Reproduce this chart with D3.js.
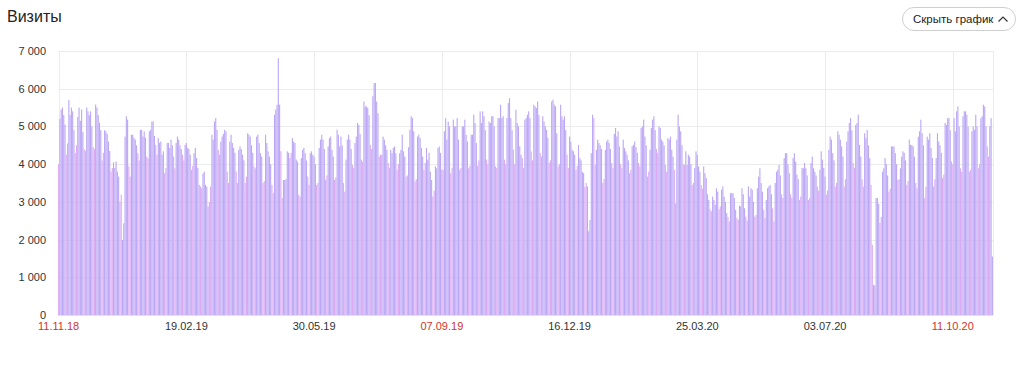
<!DOCTYPE html>
<html><head><meta charset="utf-8">
<script src="https://cdn.jsdelivr.net/npm/d3@7"></script>
<style>
html,body{margin:0;padding:0;background:#fff;}
svg{display:block;font-family:"Liberation Sans",Arial,sans-serif;}
</style></head>
<body>
<svg id="chart" width="1024" height="366"></svg>
<script>
const startDate = "2018-11-11";
// daily visits, Sunday 11.11.18 first, then Mon..Sun weeks
const visits = [
 4000,
 5200,5450,5500,5300,5050,4250,4550,
 5700,5300,5500,5400,4900,4300,4500,
 5250,5500,5150,5450,4850,4400,4350,
 5500,5400,5300,5400,5000,4450,4400,
 5580,5500,5300,5100,4900,4100,4300,
 4900,4870,4800,4600,4350,3800,3900,
 4050,3900,4070,3800,3670,3000,3190,
 1990,2430,4730,5270,5180,3940,3670,
 4780,4780,4700,4650,4500,4290,4100,
 4910,4910,4730,4870,4700,4200,4150,
 4870,4910,5130,5130,4750,4510,4250,
 4690,4560,4600,4250,4340,3760,3900,
 4560,4560,4430,4650,4500,4200,3890,
 4560,4730,4650,4500,4400,4250,4100,
 4510,4560,4430,4400,4250,3850,3950,
 4290,4430,4160,3900,3450,3410,3360,
 3750,3800,3450,3400,2880,3000,3410,
 4780,4650,5130,5220,4910,4380,4250,
 4600,4730,4800,4910,4870,3800,3500,
 4600,4780,4560,4430,4300,3800,3500,
 4380,4470,4400,4250,4100,3500,3670,
 4820,4780,4730,4500,4300,3940,3890,
 4730,4780,4560,4290,4200,3500,3550,
 4780,4560,4340,4200,4000,3450,3230,
 5310,5450,5575,6810,5575,4340,3100,
 3580,3580,3600,4340,4300,4160,4290,
 4690,4600,4560,4120,4070,3190,3140,
 4160,4380,4430,4290,4100,3670,3450,
 4290,4340,4250,4200,4000,3450,3500,
 4430,4650,4780,4650,4400,3580,3700,
 4470,4690,4730,4380,4200,3580,3650,
 4910,4780,4470,4730,4500,3500,3270,
 4120,4650,4780,4650,4400,3980,3900,
 4560,4730,5090,5040,4800,4120,4070,
 5660,5530,5530,5490,5300,4510,4400,
 5800,6150,6150,5660,5350,4200,4250,
 4250,4730,4650,4500,4380,4030,3900,
 4380,4290,4430,4470,4290,3850,4000,
 4290,4380,4780,4340,4200,3670,3700,
 4450,4910,5270,5220,4870,3540,3600,
 4730,4780,4690,4430,4200,3850,4030,
 4430,4120,4300,3800,3580,3140,3300,
 3940,3890,4430,4470,4300,3850,3850,
 4870,5220,4650,5130,5000,3760,3900,
 5180,5000,5000,5220,4650,3850,3900,
 5000,5000,5180,4780,4600,3890,3950,
 4780,4780,5310,5090,4560,3950,4100,
 5400,5090,5400,5270,4900,4120,4000,
 5130,5090,5270,5270,5000,3940,3900,
 5220,5220,5575,5220,5270,4120,4000,
 5220,5620,5750,5220,4900,4380,4000,
 5440,5090,5000,4470,4250,4160,3900,
 5180,5220,5310,5400,5220,4340,4100,
 5575,5530,5490,5660,5300,4300,4200,
 5270,5130,5000,4910,4700,4030,4100,
 5660,5710,5575,5530,4820,3940,4000,
 5575,5270,5180,5270,4900,4250,3900,
 4730,4600,4380,4340,4250,3850,3950,
 4510,4160,4100,3800,3760,3400,3500,
 3410,2220,2520,4290,5310,5220,3980,
 4380,4650,4560,4500,4400,3500,3600,
 4380,4600,4650,4560,4400,4030,3900,
 4800,4960,4730,4870,4470,4000,3900,
 4650,4430,4340,4250,4100,3760,3850,
 4470,4510,4600,4450,4300,4030,3940,
 4960,5000,5180,4730,4500,3670,3800,
 4380,4960,5180,5270,4900,4400,4300,
 5000,4960,4650,4600,4500,3980,3800,
 4690,4650,4730,4380,4200,3850,2960,
 4650,5310,5000,4870,4500,4000,3980,
 4340,3980,4250,4200,4000,3450,3500,
 3900,4340,4250,3940,3800,3450,3350,
 3940,3760,3630,3200,3050,2800,2750,
 3140,3050,2920,3360,3270,2800,2880,
 3320,3410,3140,3000,2700,2600,2480,
 3230,3230,3230,3100,2790,2570,2520,
 2900,2880,3360,3200,2830,2610,2500,
 3410,3140,3360,3320,3000,2610,2650,
 3360,3670,3890,3500,3270,2790,2570,
 3050,3360,3410,3450,3200,2830,2480,
 3500,3800,3850,3980,3700,3200,3100,
 4160,4290,4290,4000,3760,3200,3100,
 4160,4290,4070,3720,3600,3050,3140,
 3900,3890,4030,3890,3700,3050,3100,
 4030,4200,3890,3800,3700,3410,3300,
 3850,4340,4120,3900,3670,3190,3300,
 4380,4730,4650,4290,4100,3400,3500,
 4870,4780,4650,4470,4200,3410,3600,
 4600,4870,5090,5220,4900,4030,3900,
 5040,5090,5310,4510,4200,3600,3400,
 4820,4690,4910,4500,4160,3450,1860,
 800,780,3100,3100,2950,2440,2600,
 3800,3890,4160,4000,3700,3270,3350,
 4470,4470,4470,4290,4000,3580,3600,
 3890,4200,4340,4300,4100,3450,3550,
 4650,4510,4510,4470,4200,3500,3360,
 4730,4870,5180,4820,4500,3100,3400,
 4730,4650,4820,4430,4160,3410,3600,
 4160,4820,4600,4500,4300,3630,3720,
 5090,5040,5220,5220,4900,4070,4000,
 5220,4870,5400,5530,5000,3890,3800,
 5270,5400,5400,5310,5000,3800,3850,
 4870,5000,4910,5310,5000,3890,4000,
 5220,5270,5575,5530,5000,4470,4200,
 5000,5220,1550
];
const tickDays = [0,100,200,300,400,500,600,700];
const tickLabels = ["11.11.18","19.02.19","30.05.19","07.09.19","16.12.19","25.03.20","03.07.20","11.10.20"];
const yTicks = [0,1000,2000,3000,4000,5000,6000,7000];
const yTickLabels = ["0","1 000","2 000","3 000","4 000","5 000","6 000","7 000"];
const titleText = "Визиты";
const buttonText = "Скрыть график";

const svg = d3.select("#chart");
const L = 58, R = 993, T = 51, B = 315;
const t0 = new Date(2018, 10, 11);
const dates = visits.map((v, i) => d3.timeDay.offset(t0, i));
const isWeekend = i => { const g = dates[i].getDay(); return g === 0 || g === 6; };

const x = d3.scaleBand().domain(d3.range(visits.length)).range([L, R]).paddingInner(0.12).paddingOuter(0.05);
const y = d3.scaleLinear().domain([0, 7000]).range([B, T]);

// horizontal grid
svg.append("g").selectAll("line").data(yTicks).join("line")
  .attr("x1", L).attr("x2", R)
  .attr("y1", d => Math.round(y(d)) + 0.5).attr("y2", d => Math.round(y(d)) + 0.5)
  .attr("stroke", "#ececec");
// vertical grid
const vx = tickDays.map(d => x(d) + x.bandwidth() / 2);
svg.append("g").selectAll("line").data(vx.concat([R])).join("line")
  .attr("x1", d => Math.round(d) + 0.5).attr("x2", d => Math.round(d) + 0.5)
  .attr("y1", T).attr("y2", B)
  .attr("stroke", "#ececec");

// bars
svg.append("g").selectAll("rect").data(visits).join("rect")
  .attr("x", (d, i) => x(i))
  .attr("width", x.bandwidth())
  .attr("y", d => y(d))
  .attr("height", d => B - y(d))
  .attr("fill", (d, i) => isWeekend(i) ? "#dcaaf3" : "#bca8f5");

// baseline
svg.append("line").attr("x1", L).attr("x2", R).attr("y1", B + 0.5).attr("y2", B + 0.5).attr("stroke", "#e2e2e2");

// y axis
const yAxis = d3.axisLeft(y).tickValues(yTicks).tickSize(0).tickPadding(0)
  .tickFormat((d, i) => yTickLabels[i]);
const gy = svg.append("g").attr("transform", `translate(${L - 12},0)`).call(yAxis);
gy.select(".domain").remove();
gy.selectAll("text").attr("font-size", 11).attr("fill", "#333").attr("font-family", "Liberation Sans, Arial, sans-serif");

// x axis
const xAxis = d3.axisBottom(x).tickValues(tickDays).tickSize(0).tickPadding(0)
  .tickFormat((d, i) => tickLabels[i]);
const gx = svg.append("g").attr("transform", `translate(0,${B + 7})`).call(xAxis);
gx.select(".domain").remove();
gx.selectAll("text").attr("font-size", 11).attr("dy", "0.71em")
  .attr("font-family", "Liberation Sans, Arial, sans-serif")
  .attr("fill", d => isWeekend(d) ? "#d0342c" : "#333");

// title
svg.append("text").attr("x", 7).attr("y", 22).attr("font-size", 16).attr("fill", "#222").text(titleText);

// button
const bg = svg.append("g");
bg.append("rect").attr("x", 902.5).attr("y", 7.5).attr("width", 113).attr("height", 23).attr("rx", 11.5)
  .attr("fill", "#fff").attr("stroke", "#cfcfcf");
bg.append("text").attr("x", 913).attr("y", 23).attr("font-size", 11.5).attr("fill", "#222").text(buttonText);
bg.append("path").attr("d", "M998.5,21.5 L1003,17 L1007.5,21.5").attr("fill", "none").attr("stroke", "#333").attr("stroke-width", 1.2);
</script>
</body></html>
